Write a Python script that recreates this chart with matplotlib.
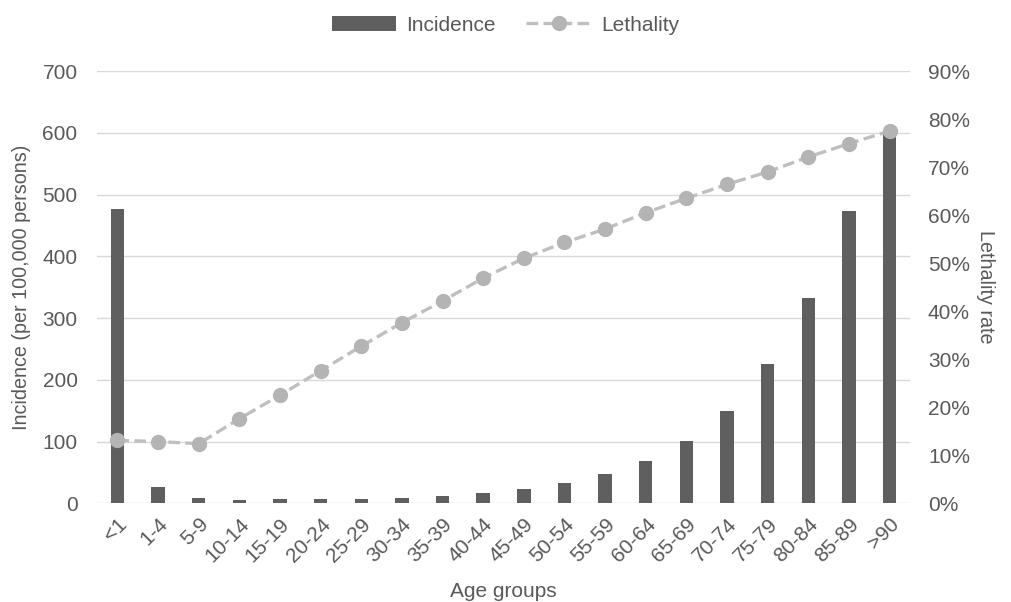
import matplotlib
matplotlib.use("Agg")
from matplotlib import pyplot as plt
from matplotlib.ticker import FuncFormatter

plt.rcParams['font.family'] = ['Liberation Sans', 'DejaVu Sans']

age_groups = ['<1', '1-4', '5-9', '10-14', '15-19', '20-24', '25-29', '30-34', '35-39', '40-44',
              '45-49', '50-54', '55-59', '60-64', '65-69', '70-74', '75-79', '80-84', '85-89', '>90']
incidence = [476, 26, 9, 6, 7, 7, 7.5, 9, 12, 17,
             23, 33, 48, 69, 101, 150, 225, 332, 473, 600]
lethality = [13.1, 12.85, 12.4, 17.6, 22.5, 27.6, 32.7, 37.6, 42.1, 46.9,
             51.0, 54.3, 57.1, 60.5, 63.5, 66.4, 69.0, 72.1, 74.9, 77.5]

text_col = '#595959'
x = range(len(age_groups))

fig = plt.figure(figsize=(10.11, 6.02), dpi=100)
ax = fig.add_axes([0.096, 0.164, 0.804, 0.718])
ax2 = ax.twinx()

bars = ax.bar(x, incidence, width=0.33, color='#5f5f5f', label='Incidence', zorder=2)
line, = ax2.plot(x, lethality, color='#bfbfbf', lw=2.4, linestyle=(0, (3.5, 1.6)),
                 marker='o', markersize=10, markerfacecolor='#b4b4b4',
                 markeredgecolor='#b4b4b4', label='Lethality', zorder=3)

ax.set_xlim(-0.5, len(age_groups) - 0.5)
ax.set_ylim(0, 700)
ax.set_yticks(range(0, 701, 100))
ax2.set_ylim(0, 90)
ax2.set_yticks(range(0, 91, 10))
ax2.yaxis.set_major_formatter(FuncFormatter(lambda v, p: f'{int(v)}%'))

ax.grid(axis='y', color='#d9d9d9', lw=1, zorder=0)
ax.set_axisbelow(True)
for a in (ax, ax2):
    for s in a.spines.values():
        s.set_visible(False)
    a.tick_params(length=0, labelsize=15, colors=text_col)
ax.tick_params(axis='y', pad=14)
ax2.tick_params(axis='y', pad=13)

ax.set_xticks(list(x))
ax.set_xticklabels(age_groups, rotation=45, ha='right', rotation_mode='anchor')
ax.tick_params(axis='x', pad=8)

ax.set_xlabel('Age groups', fontsize=15, color=text_col, labelpad=12)
ax.set_ylabel('Incidence (per 100,000 persons)', fontsize=14.2, color=text_col, labelpad=8)
ax2.set_ylabel('Lethality rate', fontsize=14.2, color=text_col, rotation=270, labelpad=18)

fig.legend([bars, line], ['Incidence', 'Lethality'], loc='upper center',
           bbox_to_anchor=(0.5, 1.005), ncol=2, frameon=False, fontsize=15,
           labelcolor=text_col, handlelength=3.1, handletextpad=0.5, columnspacing=1.45)

fig.savefig('out.png', dpi=100)
